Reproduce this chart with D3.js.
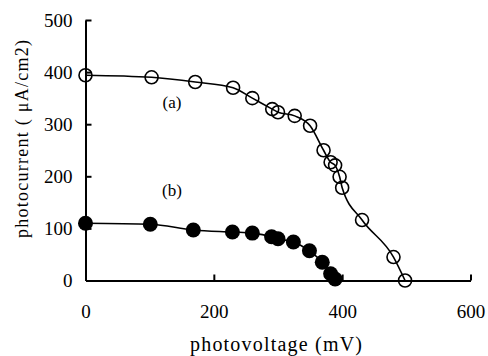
<!DOCTYPE html>
<html>
<head>
<script type="text/javascript" src="https://cdn.jsdelivr.net/npm/d3@7"></script>
<style>
body { margin: 0; background: white; }
</style>
</head>
<body>
<script>

var width = 488,
    height = 356;

// series (a): open circles
var voltA = [0, 103, 171, 230, 260, 291, 300, 326, 350, 371, 382, 389, 396, 400, 431, 480, 498];
var currA = [394, 390, 381, 370, 350, 329, 323, 316, 297, 250, 227, 221, 199, 178, 116, 45, 0];
// series (b): filled circles
var voltB = [0, 101, 168, 229, 260, 290, 300, 324, 349, 369, 382, 389];
var currB = [110, 108, 97, 93, 91, 84, 80, 74, 57, 35, 13, 3];

var xTicks = [0, 200, 400, 600];
var yTicks = [0, 100, 200, 300, 400, 500];

var x = d3.scaleLinear().domain([0, 600]).range([85.5, 470.5]);
var y = d3.scaleLinear().domain([0, 500]).range([280.5, 20]);

var svg = d3.select("body")
            .append("svg")
            .attr("width", width)
            .attr("height", height)
            .style("background", "white");

// axes - ticks point inward
var xAxis = d3.axisBottom(x).tickValues(xTicks).tickSizeInner(-6).tickSizeOuter(0).tickPadding(24);
var yAxis = d3.axisLeft(y).tickValues(yTicks).tickSizeInner(-6).tickSizeOuter(0).tickPadding(13);

var gx = svg.append("g")
            .attr("transform", "translate(0," + y(0) + ")")
            .call(xAxis);
var gy = svg.append("g")
            .attr("transform", "translate(" + x(0) + ",0)")
            .call(yAxis);

[gx, gy].forEach(function (g) {
  g.selectAll("path, line").attr("stroke", "black").attr("stroke-width", 2);
  g.selectAll("text")
   .attr("fill", "black")
   .style("font-family", "'Liberation Serif', 'Times New Roman', serif")
   .style("font-size", "19px");
});
gx.selectAll(".tick").filter(function (d) { return d === 0; }).select("line").remove();
gy.selectAll(".tick").filter(function (d) { return d === 0; }).select("line").remove();

// curves
var line = d3.line()
             .x(function (d) { return x(d[0]); })
             .y(function (d) { return y(d[1]); })
             .curve(d3.curveMonotoneX);

var dataA = voltA.map(function (v, i) { return [v, currA[i]]; });
var dataB = voltB.map(function (v, i) { return [v, currB[i]]; });

svg.append("path")
   .attr("d", line(dataA))
   .attr("fill", "none")
   .attr("stroke", "black")
   .attr("stroke-width", 1.6);

svg.append("path")
   .attr("d", line(dataB))
   .attr("fill", "none")
   .attr("stroke", "black")
   .attr("stroke-width", 1.6);

svg.append("g").selectAll("circle")
   .data(dataA)
   .enter()
   .append("circle")
   .attr("cx", function (d) { return x(d[0]); })
   .attr("cy", function (d) { return y(d[1]); })
   .attr("r", 6.5)
   .attr("fill", "none")
   .attr("stroke", "black")
   .attr("stroke-width", 1.6);

svg.append("g").selectAll("circle")
   .data(dataB)
   .enter()
   .append("circle")
   .attr("cx", function (d) { return x(d[0]); })
   .attr("cy", function (d) { return y(d[1]); })
   .attr("r", 7.5)
   .attr("fill", "black");

// series labels
svg.append("text")
   .attr("x", 172).attr("y", 108)
   .attr("text-anchor", "middle")
   .style("font-family", "'Liberation Serif', serif")
   .style("font-size", "17px")
   .text("(a)");

svg.append("text")
   .attr("x", 172).attr("y", 196)
   .attr("text-anchor", "middle")
   .style("font-family", "'Liberation Serif', serif")
   .style("font-size", "17px")
   .text("(b)");

// axis titles (serif, spread like a fixed-width CJK font)
svg.append("text")
   .attr("x", 276).attr("y", 351)
   .attr("text-anchor", "middle")
   .attr("textLength", 172)
   .attr("lengthAdjust", "spacing")
   .style("font-family", "'Liberation Serif', serif")
   .style("font-size", "20px")
   .text("photovoltage (mV)");

svg.append("text")
   .attr("transform", "translate(28,139) rotate(-90)")
   .attr("text-anchor", "middle")
   .attr("textLength", 198)
   .attr("lengthAdjust", "spacing")
   .style("font-family", "'Liberation Serif', serif")
   .style("font-size", "18px")
   .text("photocurrent ( \u03bcA/cm2)");

</script>
</body>
</html>
